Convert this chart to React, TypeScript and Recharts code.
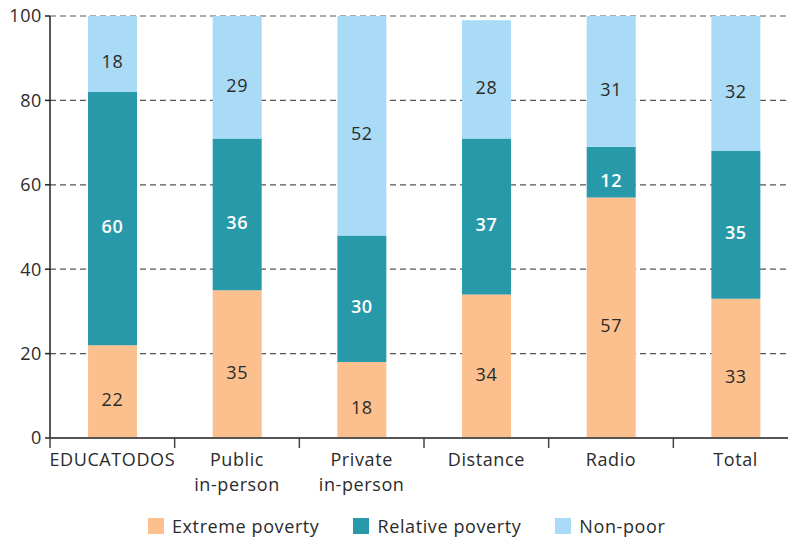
import { BarChart, Bar, XAxis, YAxis, CartesianGrid, LabelList } from "recharts";

const categories = ["EDUCATODOS", "Public\nin-person", "Private\nin-person", "Distance", "Radio", "Total"];
const extremePoverty = [22, 35, 18, 34, 57, 33];
const relativePoverty = [60, 36, 30, 37, 12, 35];
const nonPoor = [18, 29, 52, 28, 31, 32];
const yTicks = [0, 20, 40, 60, 80, 100];

const data = categories.map((name, i) => ({
  name,
  extreme: extremePoverty[i],
  relative: relativePoverty[i],
  nonPoor: nonPoor[i],
}));

const FONT = "'Open Sans', sans-serif";
const TEXT = "#2b2b2b";
const SPACING = 0.6;
const CHART_W = 798;
const Y_W = 50;
const BAND = (CHART_W - Y_W) / categories.length;

const COLORS = {
  extreme: "#fbc08e",
  relative: "#2899a8",
  nonPoor: "#a9dbf6",
};

const legendItems = [
  { label: "Extreme poverty", color: COLORS.extreme },
  { label: "Relative poverty", color: COLORS.relative },
  { label: "Non-poor", color: COLORS.nonPoor },
];

// category label plus a tick mark at the left edge of each band
const CategoryTick = (props: any) => {
  const { x, y, payload } = props;
  const lines = String(payload.value).split("\n");
  const left = x - BAND / 2;
  return (
    <g>
      <line x1={left} y1={y - 9} x2={left} y2={y + 2} stroke="#444" strokeWidth={1.5} />
      <text
        x={x}
        y={y + 20}
        textAnchor="middle"
        fill={TEXT}
        fontSize={18}
        fontFamily={FONT}
        letterSpacing={SPACING}
      >
        {lines.map((l, i) => (
          <tspan key={i} x={x} dy={i === 0 ? 0 : 25}>
            {l}
          </tspan>
        ))}
      </text>
    </g>
  );
};

const labelProps = { position: "center" as const, fontSize: 18, fontFamily: FONT, dy: 8, letterSpacing: SPACING };

const App = () => {
  return (
    <div style={{ position: "fixed", left: 0, top: 0, width: 788, height: 537, overflow: "hidden", background: "#fff" }}>
      <BarChart
        width={CHART_W}
        height={537}
        data={data}
        margin={{ top: 16, right: 0, left: 0, bottom: 39 }}
        barCategoryGap="30.5%"
      >
        <CartesianGrid vertical={false} stroke="#555" strokeDasharray="6 4" strokeWidth={1.2} />
        <XAxis
          dataKey="name"
          interval={0}
          height={60}
          tickLine={false}
          tick={<CategoryTick />}
          axisLine={{ stroke: "#555", strokeWidth: 2 }}
        />
        <YAxis
          domain={[0, 100]}
          ticks={yTicks}
          width={Y_W}
          tickSize={5}
          tickMargin={3}
          axisLine={{ stroke: "#222", strokeWidth: 1.5 }}
          tickLine={{ stroke: "#222", strokeWidth: 1.5 }}
          tick={{ fill: TEXT, fontSize: 18, fontFamily: FONT, letterSpacing: SPACING }}
        />
        <Bar dataKey="extreme" stackId="a" fill={COLORS.extreme} isAnimationActive={false}>
          <LabelList dataKey="extreme" fill={TEXT} {...labelProps} />
        </Bar>
        <Bar dataKey="relative" stackId="a" fill={COLORS.relative} isAnimationActive={false}>
          <LabelList dataKey="relative" fill="#fff" fontWeight={600} {...labelProps} />
        </Bar>
        <Bar dataKey="nonPoor" stackId="a" fill={COLORS.nonPoor} isAnimationActive={false}>
          <LabelList dataKey="nonPoor" fill={TEXT} {...labelProps} />
        </Bar>
      </BarChart>
      <div
        style={{
          position: "absolute",
          left: 148,
          top: 514,
          display: "flex",
          alignItems: "center",
          gap: 34,
          fontFamily: FONT,
          fontSize: 18,
          letterSpacing: SPACING,
          color: TEXT,
        }}
      >
        {legendItems.map((it) => (
          <div key={it.label} style={{ display: "flex", alignItems: "center", gap: 8 }}>
            <span style={{ width: 16, height: 16, background: it.color, display: "inline-block" }} />
            <span>{it.label}</span>
          </div>
        ))}
      </div>
    </div>
  );
};

export default App;
